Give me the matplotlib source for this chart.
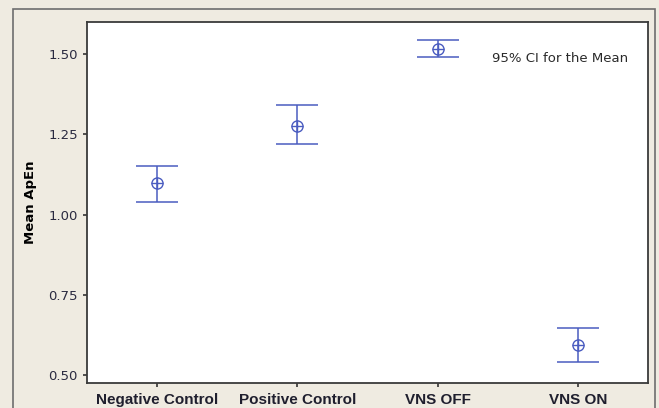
"""Interval plot of mean ApEn with 95% CI per group."""

import matplotlib.pyplot as plt
from matplotlib.patches import Rectangle

groups = ["Negative Control", "Positive Control", "VNS OFF", "VNS ON"]
means = [1.098, 1.277, 1.517, 0.592]
ci_low = [1.039, 1.220, 1.491, 0.541]
ci_high = [1.152, 1.341, 1.544, 0.647]
yticks = [0.50, 0.75, 1.00, 1.25, 1.50]

BG = "#efebe1"
BLUE = "#4a5cc0"
TEXT = "#1f1f2e"

fig = plt.figure(figsize=(6.59, 4.08), dpi=100, facecolor=BG)
fig.patches.append(Rectangle((13 / 659, -0.05), 642 / 659, 1.05 - 9 / 408,
                             transform=fig.transFigure, fill=False,
                             edgecolor="#6e6e6e", linewidth=1.2))
ax = fig.add_axes([87 / 659, 1 - 383 / 408, 561 / 659, 361 / 408])
ax.set_facecolor("white")

x = list(range(len(groups)))
err_low = [m - lo for m, lo in zip(means, ci_low)]
err_high = [hi - m for m, hi in zip(means, ci_high)]
ax.errorbar(x, means, yerr=[err_low, err_high], fmt="none", ecolor=BLUE,
            elinewidth=1.1, capsize=15, capthick=1.1)
ax.plot(x, means, linestyle="none", marker="o", markersize=8,
        markerfacecolor="none", markeredgecolor=BLUE, markeredgewidth=1.0)
ax.plot(x, means, linestyle="none", marker="+", markersize=8,
        color=BLUE, markeredgewidth=1.0)

ax.set_xlim(-0.5, 3.5)
ax.set_ylim(0.475, 1.60)
ax.set_xticks(x)
ax.set_xticklabels(groups, fontsize=11, fontweight="bold", color=TEXT,
                   family="Liberation Sans")
ax.set_yticks(yticks)
ax.set_yticklabels([f"{v:.2f}" for v in yticks], fontsize=9.5, color="#2a2a40")
ax.tick_params(axis="both", direction="out", length=3, width=1.2, color="#333333")
ax.tick_params(axis="x", pad=4)
ax.set_ylabel("Mean ApEn", fontsize=9.5, fontweight="bold", color="black", labelpad=8)

for spine in ax.spines.values():
    spine.set_color("#3a3a3a")
    spine.set_linewidth(1.3)

ax.text(0.965, 0.90, "95% CI for the Mean", transform=ax.transAxes,
        ha="right", va="center", fontsize=9.5, color="#2a2a2a")

fig.savefig("out.png", dpi=100, facecolor=BG)
